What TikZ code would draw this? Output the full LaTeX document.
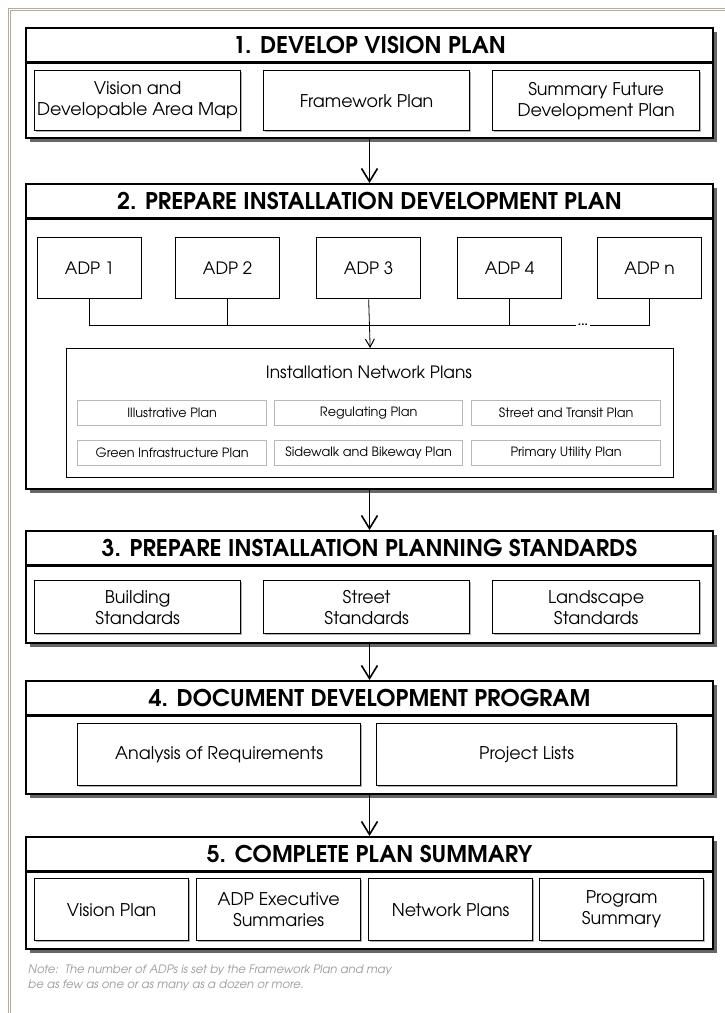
\documentclass[tikz,border=0pt]{standalone}
\usepackage{fontspec}
\setmainfont{TeX Gyre Adventor}
\usetikzlibrary{arrows.meta,shadows}

\definecolor{framebrown}{HTML}{B5AA9C}
\definecolor{softgray}{HTML}{B8B8B8}
\definecolor{notegray}{HTML}{9A9A9A}

\begin{document}
\begin{tikzpicture}[x=1pt, y=1pt,
    stage/.style={draw, line width=2pt, fill=white, anchor=north west,
      drop shadow={shadow xshift=4pt, shadow yshift=-4pt, fill=black!60, opacity=1}},
    heading/.style={anchor=north, minimum height=35pt, inner sep=0pt,
      font=\bfseries\fontsize{23}{27}\selectfont},
    band/.style={line width=3.5pt},
    part/.style={draw, line width=1.3pt, fill=white, anchor=north west, align=center,
      inner sep=2pt, font=\fontsize{17.5}{21}\selectfont,
      drop shadow={shadow xshift=1.5pt, shadow yshift=-1.5pt, fill=black!30, opacity=1}},
    adp/.style={draw, line width=1.3pt, fill=white, anchor=north west,
      minimum width=104pt, minimum height=61pt, font=\fontsize{17}{20}\selectfont},
    layer/.style={draw=softgray, line width=1.3pt, anchor=north west, minimum height=25pt,
      inner sep=1pt, font=\fontsize{12.8}{15}\selectfont},
    wire/.style={line width=0.8pt},
    flow/.style={line width=1.6pt, -{Straight Barb[length=13pt, width=16pt, line width=1.6pt]}},
  ]
    \useasboundingbox (0,0) rectangle (725,-1013);

    % page frame
    \draw[framebrown, line width=0.7pt, double, double distance=1pt]
      (9.5,-1013) -- (9.5,-9.5) -- (725,-9.5);

    % Step 1
    \node[stage, minimum width=687pt, minimum height=110pt] (s1) at (25,-27) {};
    \node[heading] (h1) at (s1.north) {1. DEVELOP VISION PLAN};
    \draw[band] (s1.west |- h1.south) -- (s1.east |- h1.south);
    \node[part, minimum width=206pt, minimum height=60pt] (vision) at (34,-70) {Vision and\\Developable Area Map};
    \node[part, minimum width=206pt, minimum height=60pt] (framework) at (263,-70) {Framework Plan};
    \node[part, minimum width=207pt, minimum height=60pt] (future) at (492,-70) {Summary Future\\Development Plan};

    % Step 2
    \node[stage, minimum width=687pt, minimum height=305pt] (s2) at (25,-183) {};
    \node[heading] (h2) at (s2.north) {2. PREPARE INSTALLATION DEVELOPMENT PLAN};
    \draw[band] (s2.west |- h2.south) -- (s2.east |- h2.south);
    \node[adp] (adp1) at (37,-237) {ADP 1};
    \node[adp] (adp2) at (175,-237) {ADP 2};
    \node[adp] (adp3) at (316,-237) {ADP 3};
    \node[adp] (adp4) at (457,-237) {ADP 4};
    \node[adp] (adpn) at (597,-237) {ADP n};
    \coordinate (bus) at (0,-325);
    \node[inner sep=0pt, anchor=base, font=\bfseries\fontsize{12}{12}\selectfont] (more) at (583,-325) {...};

    \node[draw, line width=1.3pt, anchor=north west, minimum width=607pt, minimum height=129pt] (net) at (66,-348) {};
    \node[font=\fontsize{17}{20}\selectfont] (nettitle) at (369,-372) {Installation Network Plans};
    \node[layer, minimum width=189pt] (illus) at (77,-400) {Illustrative Plan};
    \node[layer, minimum width=188pt] (regul) at (274,-400) {Regulating Plan};
    \node[layer, minimum width=189pt] (street) at (471,-400) {Street and Transit Plan};
    \node[layer, minimum width=189pt] (green) at (77,-440) {Green Infrastructure Plan};
    \node[layer, minimum width=188pt] (walk) at (274,-440) {Sidewalk and Bikeway Plan};
    \node[layer, minimum width=189pt] (utility) at (471,-440) {Primary Utility Plan};

    % ADP connectors
    \draw[wire] (adp1.south) |- ([xshift=-2pt]more.west |- bus);
    \draw[wire] ([xshift=2pt]more.east |- bus) -| (adpn.south);
    \draw[wire] (adp2.south) -- (adp2.south |- bus);
    \draw[wire] (adp4.south) -- (adp4.south |- bus);
    \draw[wire, -{Straight Barb[length=8pt, width=9pt, line width=1pt]}] (adp3.south) -- (net.north);

    % Step 3
    \node[stage, minimum width=687pt, minimum height=112pt] (s3) at (25,-530) {};
    \node[heading] (h3) at (s3.north) {3. PREPARE INSTALLATION PLANNING STANDARDS};
    \draw[band] (s3.west |- h3.south) -- (s3.east |- h3.south);
    \node[part, minimum width=206pt, minimum height=53pt] (building) at (34,-580) {Building\\Standards};
    \node[part, minimum width=206pt, minimum height=53pt] (streetstd) at (263,-580) {Street\\Standards};
    \node[part, minimum width=207pt, minimum height=53pt] (landscape) at (492,-580) {Landscape\\Standards};

    % Step 4
    \node[stage, minimum width=687pt, minimum height=113pt] (s4) at (25,-680) {};
    \node[heading] (h4) at (s4.north) {4. DOCUMENT DEVELOPMENT PROGRAM};
    \draw[band] (s4.west |- h4.south) -- (s4.east |- h4.south);
    \node[part, minimum width=283pt, minimum height=62pt] (analysis) at (77,-723) {Analysis of Requirements};
    \node[part, minimum width=300pt, minimum height=62pt] (projects) at (376,-723) {Project Lists};

    % Step 5
    \node[stage, minimum width=687pt, minimum height=112pt] (s5) at (25,-836) {};
    \node[heading] (h5) at (s5.north) {5. COMPLETE PLAN SUMMARY};
    \draw[band] (s5.west |- h5.south) -- (s5.east |- h5.south);
    \node[part, minimum width=154pt, minimum height=62pt] (visionplan) at (34,-878) {Vision Plan};
    \node[part, minimum width=164pt, minimum height=62pt] (execsum) at (196,-878) {ADP Executive\\Summaries};
    \node[part, minimum width=164pt, minimum height=62pt] (netplans) at (368,-878) {Network Plans};
    \node[part, minimum width=164pt, minimum height=62pt] (progsum) at (539,-878) {Program\\Summary};

    % Draw arrows
    \draw[flow] (s1.south) -- (s2.north);
    \draw[flow] (s2.south) -- (s3.north);
    \draw[flow] (s3.south) -- (s4.north);
    \draw[flow] (s4.south) -- (s5.north);

    % note
    \node[anchor=north west, align=left, text=notegray, inner sep=0pt,
      font=\itshape\fontsize{11.6}{15}\selectfont] (note) at (28,-965)
      {Note:\ \ The number of ADPs is set by the Framework Plan and may\\be as few as one or as many as a dozen or more.};
\end{tikzpicture}
\end{document}
